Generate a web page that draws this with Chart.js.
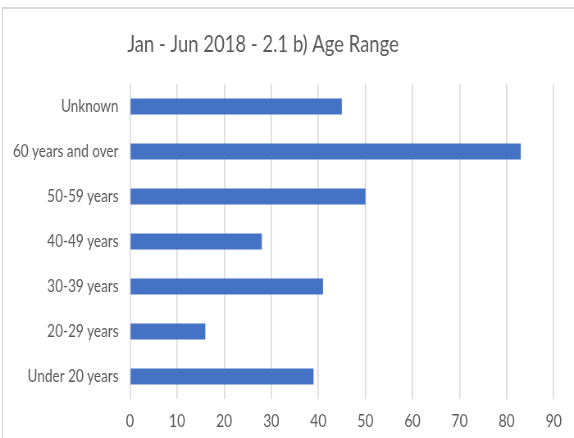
<!DOCTYPE html>
<html>
<head>
<meta charset="utf-8">
<script src="https://cdn.jsdelivr.net/npm/chart.js@4/dist/chart.umd.min.js"></script>
<style>
  html, body { margin: 0; padding: 0; background: #fff; overflow: hidden; width: 574px; height: 438px; }
  #frame { position: absolute; left: 2px; top: 7px; width: 700px; height: 600px;
           border-left: 1px solid #d9d9d9; border-top: 2px solid #d9d9d9; }
  /* chart is drawn wide and squeezed horizontally for a condensed look */
  #wrap { position: absolute; left: 0; top: 0; width: 700px; height: 438px;
          transform: scaleX(0.82); transform-origin: 0 0; }
</style>
</head>
<body>
<div id="frame"></div>
<div id="wrap"><canvas id="c" width="700" height="438"></canvas></div>
<script>
const chartTitle = "Jan - Jun 2018 - 2.1 b) Age Range";
const ageRanges = ["Under 20 years", "20-29 years", "30-39 years", "40-49 years",
                   "50-59 years", "60 years and over", "Unknown"];
const counts = [39, 16, 41, 28, 50, 83, 45];
const xMin = 0;
const xMax = 90;
const xStep = 10;

const SQUEEZE = 0.82;
const FONT = "Lato, 'Open Sans', sans-serif";
const TEXT = "#595959";

const titlePlugin = {
  id: "ageTitle",
  afterDraw(chart) {
    const ctx = chart.ctx;
    ctx.save();
    ctx.font = "22.5px " + FONT;
    ctx.fillStyle = TEXT;
    ctx.textAlign = "center";
    ctx.textBaseline = "alphabetic";
    ctx.fillText(chartTitle, 263 / SQUEEZE, 52);
    ctx.restore();
  }
};

new Chart(document.getElementById("c"), {
  type: "bar",
  data: {
    labels: ageRanges,
    datasets: [{
      data: counts,
      backgroundColor: "#4472C4",
      borderWidth: 0,
      categoryPercentage: 1,
      barPercentage: 0.356
    }]
  },
  options: {
    indexAxis: "y",
    responsive: false,
    animation: false,
    devicePixelRatio: 1,
    layout: { padding: { top: 84, right: 700 - 553.7 / SQUEEZE, bottom: 0, left: 0 } },
    plugins: { legend: { display: false }, title: { display: false }, tooltip: { enabled: false } },
    scales: {
      x: {
        min: xMin, max: xMax,
        ticks: { stepSize: xStep, color: TEXT, font: { family: FONT, size: 17 }, padding: 12, maxRotation: 0 },
        grid: { color: "#d9d9d9", lineWidth: 1.6, drawTicks: false },
        border: { display: false },
        afterFit(scale) { scale.height = 39; }
      },
      y: {
        reverse: true,
        ticks: { color: TEXT, font: { family: FONT, size: 16.5 }, padding: 14 },
        grid: { display: false, drawTicks: false },
        border: { display: false },
        afterFit(scale) { scale.width = 130 / SQUEEZE; }
      }
    }
  },
  plugins: [titlePlugin]
});
</script>
</body>
</html>
